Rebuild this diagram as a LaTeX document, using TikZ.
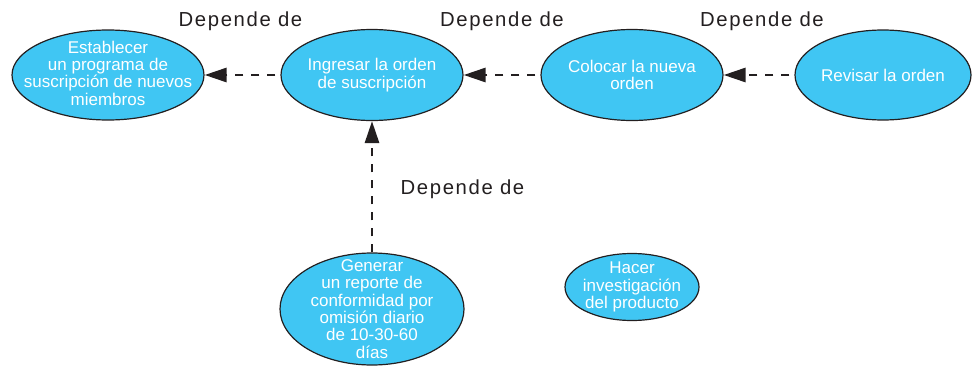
\documentclass[tikz,border=0pt]{standalone}
\usepackage{fontspec}
\setmainfont{Liberation Sans}
\newfontfamily\lblfont[LetterSpace=8]{Liberation Sans}
\usetikzlibrary{shapes.geometric,arrows.meta}
\definecolor{bubble}{RGB}{64,198,243}
\definecolor{ink}{RGB}{35,31,32}
\tikzset{
 task/.style={ellipse, draw=ink, line width=1.2pt, fill=bubble, inner sep=0pt},
 tasktext/.style={text=white, align=center, inner sep=0pt, font=\fontsize{17}{17.3}\selectfont},
 dep/.style={draw=ink, line width=2.8pt, dash pattern=on 8pt off 8pt, -{Triangle[length=22pt,width=14pt]}},
 deplabel/.style={text=ink, font=\lblfont\fontsize{20.3}{24}\selectfont, anchor=base, inner sep=0pt}
}
\begin{document}
\begin{tikzpicture}[x=1pt,y=-1pt]
\useasboundingbox (0,0) rectangle (972,367);
\node[task, minimum width=192pt, minimum height=90pt,
  label={[tasktext, yshift=2pt]center:{Establecer\\un programa de\\suscripción de nuevos\\miembros}}] (e1) at (108,75) {};
\node[task, minimum width=182pt, minimum height=91pt,
  label={[tasktext]center:{Ingresar la orden\\de suscripción}}] (e2) at (372,75) {};
\node[task, minimum width=182pt, minimum height=91pt,
  label={[tasktext]center:{Colocar la nueva\\orden}}] (e3) at (632,75) {};
\node[task, minimum width=176pt, minimum height=90pt,
  label={[tasktext]center:{Revisar la orden}}] (e4) at (883,75) {};
\node[task, minimum width=184pt, minimum height=112pt,
  label={[tasktext]center:{Generar\\un reporte de\\conformidad por\\omisión diario\\de 10-30-60\\días}}] (e5) at (372,309) {};
\node[task, minimum width=134pt, minimum height=67pt,
  label={[tasktext]center:{Hacer\\investigación\\del producto}}] (e6) at (632,287) {};

\draw[dep, shorten <=5pt] (e2.west) -- (e1.east);
\draw[dep, shorten <=5pt] (e3.west) -- (e2.east);
\draw[dep, shorten <=5pt] (e4.west) -- (e3.east);
\draw[dep] (e5.north) -- (e2.south);

\node[deplabel] (l1) at (240.5,26) {Depende de};
\node[deplabel] (l2) at (502,26) {Depende de};
\node[deplabel] (l3) at (762,26) {Depende de};
\node[deplabel] (l4) at (462.5,194) {Depende de};
\end{tikzpicture}
\end{document}
